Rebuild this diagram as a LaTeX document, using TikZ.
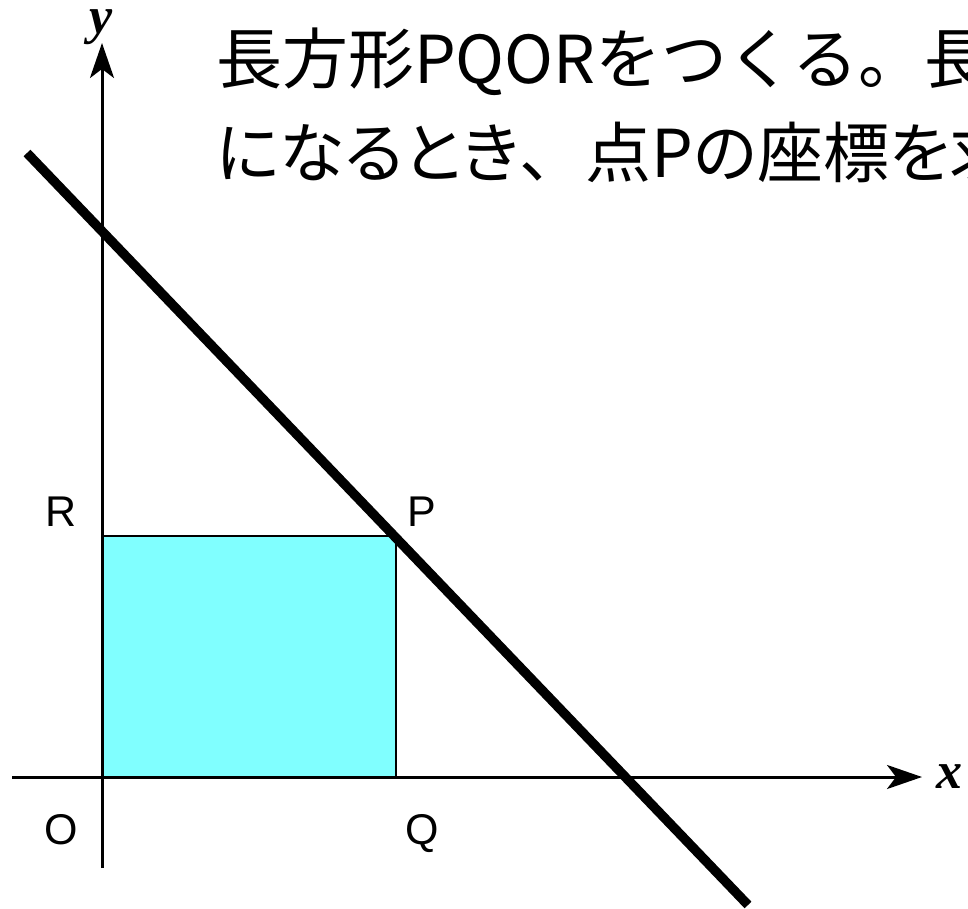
\documentclass[tikz,border=0pt]{standalone}
\usepackage{fontspec}
\setmainfont{Liberation Sans}
\newfontfamily\jpfont{Noto Sans CJK JP}
\newfontfamily\jppfont[RawFeature=+palt]{Noto Sans CJK JP}
\newfontfamily\labfont{Liberation Sans}
\newfontfamily\axfont{Liberation Serif}
\usetikzlibrary{arrows.meta}
\definecolor{rectcyan}{HTML}{80FFFF}
\tikzset{
  axisline/.style={line width=3pt,-{Stealth[length=35pt,width=24pt,inset=9pt]}},
  rectline/.style={line width=2.5pt},
  thickline/.style={line width=9.5pt},
  ptlabel/.style={anchor=base west,inner sep=0pt,font=\labfont\fontsize{43}{43}\selectfont},
  axlabel/.style={anchor=base west,inner sep=0pt,font=\axfont\bfseries\itshape\fontsize{52}{52}\selectfont},
  jptext/.style={anchor=base west,inner sep=0pt,font=\jpfont\fontsize{66}{66}\selectfont},
  jpptext/.style={anchor=base west,inner sep=0pt,font=\jppfont\fontsize{66}{66}\selectfont}
}
\begin{document}
\begin{tikzpicture}[x=1pt,y=1pt]
\useasboundingbox (0,0) rectangle (968,908);
\clip (0,0) rectangle (968,908);
\coordinate (O) at (102,131);
\coordinate (Q) at (396,131);
\coordinate (P) at (396,372);
\coordinate (R) at (102,372);
\coordinate (xs) at (12,131);
\coordinate (xe) at (922,131);
\coordinate (ys) at (102,40);
\coordinate (ye) at (102,865);
\coordinate (L1) at (27,755);
\coordinate (L2) at (748,3);
% rectangle
\fill[rectcyan] (O) rectangle (P);
\draw[rectline] (Q) -- (P) -- (R);
% axes
\draw[axisline] (xs) -- (xe);
\draw[axisline] (ys) -- (ye);
% line
\draw[thickline] (L1) -- (L2);
% labels
\node[ptlabel] (lR) at (45,381) {R};
\node[ptlabel] (lP) at (407,381) {P};
\node[ptlabel] (lO) at (44,64) {O};
\node[ptlabel] (lQ) at (405,64) {Q};
\node[axlabel] (lx) at (936,120) {x};
\node[axlabel] (ly) at (89,874) {y};
% text
\node[jptext] (t1) at (216,824) {長方形PQORをつくる。長};
\node[jpptext] (t2) at (216,730) {になるとき{\jpfont 、}点Pの座標を求};
\end{tikzpicture}
\end{document}
